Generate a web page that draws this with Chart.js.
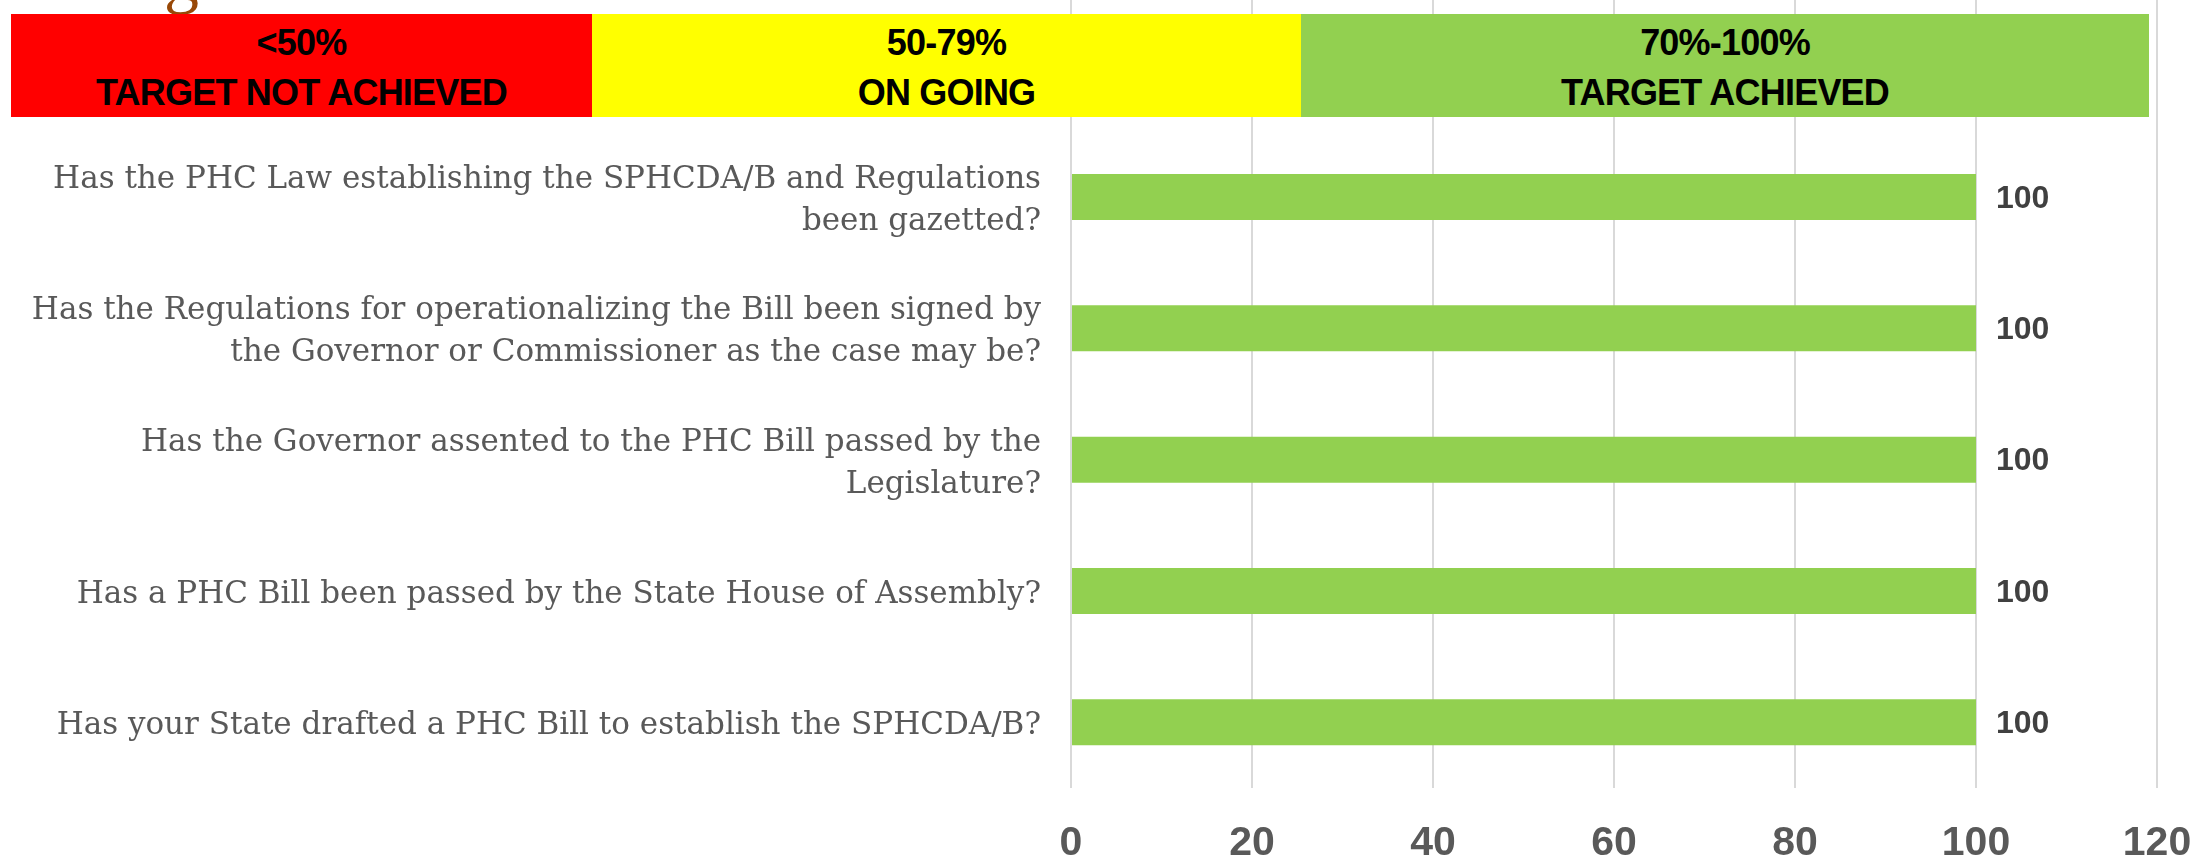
<!DOCTYPE html>
<html>
<head>
<meta charset="utf-8">
<script src="https://cdn.jsdelivr.net/npm/chart.js@4.4.1/dist/chart.umd.min.js"></script>
<style>
    html, body { margin: 0; padding: 0; background: #ffffff; }
    #wrap { position: relative; width: 2203px; height: 861px; overflow: hidden; }
    #chart { position: absolute; left: 0; top: 0; }
    .title-tail {
        position: absolute; left: 164px; top: -58px;
        font: 70px 'Liberation Serif', serif; color: #984807; line-height: 70px;
    }
    .band {
        position: absolute; top: 14px; height: 103px; box-sizing: border-box; padding-top: 4px;
        font: bold 36px 'Liberation Sans', Arial, sans-serif; color: #000000; letter-spacing: -0.8px;
        text-align: center; line-height: 50px;
    }
    .band.red { left: 11px; width: 581px; background: #ff0000; }
    .band.yellow { left: 592px; width: 709px; background: #ffff00; }
    .band.green { left: 1301px; width: 848px; background: #92d050; }
</style>
</head>
<body>
<div id="wrap">
    <canvas id="chart" width="2203" height="861"></canvas>
    <div class="title-tail">g</div>
    <div class="band red" id="band-0"></div>
    <div class="band yellow" id="band-1"></div>
    <div class="band green" id="band-2"></div>
</div>
<script>
// Questions (top slot sits behind the legend banner, so it stays empty)
const questions = [
    '',
    ['Has the PHC Law establishing the SPHCDA/B and Regulations', 'been gazetted?'],
    ['Has the Regulations for operationalizing the Bill been signed by', 'the Governor or Commissioner as the case may be?'],
    ['Has the Governor assented to the PHC Bill passed by the', 'Legislature?'],
    'Has a PHC Bill been passed by the State House of Assembly?',
    'Has your State drafted a PHC Bill to establish the SPHCDA/B?'
];
const scores = [null, 100, 100, 100, 100, 100];

// x axis
const xMin = 0;
const xMax = 120;
const xStep = 20;

// Legend banner
const bandRanges = ['<50%', '50-79%', '70%-100%'];
const bandNames = ['TARGET NOT ACHIEVED', 'ON GOING', 'TARGET ACHIEVED'];

bandRanges.forEach((range, i) => {
    const el = document.getElementById('band-' + i);
    el.innerHTML = range.replace('<', '&lt;') + '<br>' + bandNames[i];
});

// Value labels at the bar ends
const valueLabels = {
    id: 'valueLabels',
    afterDatasetsDraw(chart) {
        const ctx = chart.ctx;
        const meta = chart.getDatasetMeta(0);
        ctx.save();
        ctx.font = 'bold 32px "Liberation Sans", Arial, sans-serif';
        ctx.fillStyle = '#404040';
        ctx.textAlign = 'left';
        ctx.textBaseline = 'middle';
        meta.data.forEach((bar, i) => {
            if (scores[i] === null) return;
            ctx.fillText(String(scores[i]), bar.x + 20, bar.y + 2);
        });
        ctx.restore();
    }
};

const ctx = document.getElementById('chart').getContext('2d');
new Chart(ctx, {
    type: 'bar',
    data: {
        labels: questions,
        datasets: [{
            data: scores,
            backgroundColor: '#92d050',
            borderWidth: 0,
            categoryPercentage: 1,
            barPercentage: 0.35
        }]
    },
    options: {
        indexAxis: 'y',
        responsive: false,
        devicePixelRatio: 1,
        animation: false,
        layout: { padding: { left: 0, right: 46, top: 0, bottom: 0 } },
        plugins: {
            legend: { display: false },
            tooltip: { enabled: false },
            title: { display: false }
        },
        scales: {
            x: {
                min: xMin,
                max: xMax,
                afterFit: s => { s.height = 73; s.paddingLeft = 0; s.paddingRight = 0; },
                ticks: {
                    stepSize: xStep,
                    padding: 35,
                    color: '#595959',
                    font: { family: '"Liberation Sans", Arial, sans-serif', size: 41, weight: 'bold', lineHeight: 1 }
                },
                grid: { color: '#d9d9d9', lineWidth: 2, drawTicks: false },
                border: { display: false }
            },
            y: {
                afterFit: s => { s.width = 1071; s.paddingTop = 0; s.paddingBottom = 0; },
                ticks: {
                    padding: 30,
                    labelOffset: 4,
                    color: '#595959',
                    font: { family: '"DejaVu Serif", serif', size: 31, lineHeight: 1.35 }
                },
                grid: { display: false, drawTicks: false },
                border: { display: false }
            }
        }
    },
    plugins: [valueLabels]
});
</script>
</body>
</html>
